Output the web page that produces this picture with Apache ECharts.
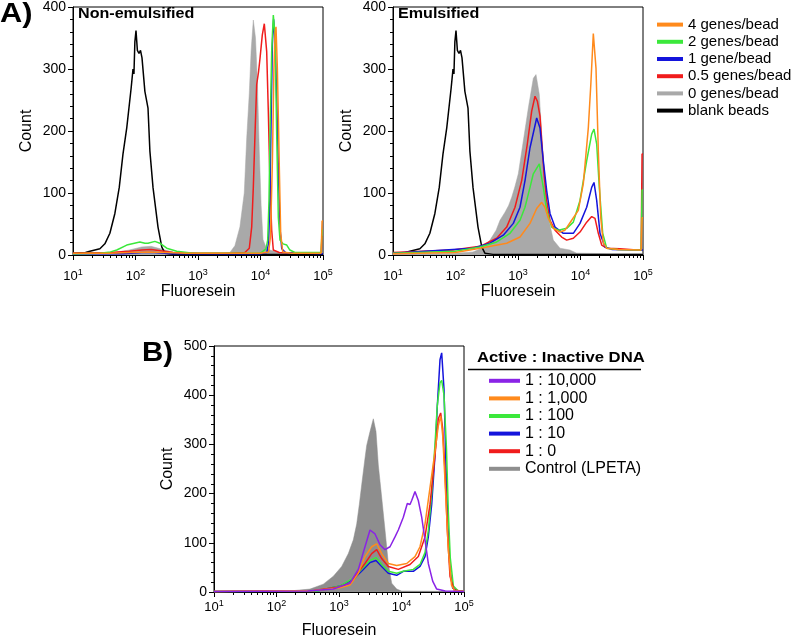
<!DOCTYPE html>
<html>
<head>
<meta charset="utf-8">
<script src="https://cdn.jsdelivr.net/npm/echarts@6/dist/echarts.min.js"></script>
<style>
html,body{margin:0;padding:0;background:#fff;}
#chart{width:800px;height:640px;}
</style>
</head>
<body>
<div id="chart"></div>
<script>
// Each point: [log10(fluorescence), count]
const blankBeads = [[1.0,3],[1.2,4],[1.27,6],[1.35,8],[1.43,10],[1.51,18],[1.59,35],[1.67,67],[1.74,109],[1.80,163],[1.86,205],[1.93,269],[1.96,300],[1.975,292],[1.99,344],[2.008,362],[2.03,330],[2.056,325],[2.08,330],[2.104,318],[2.15,264],[2.2,237],[2.23,168],[2.28,109],[2.36,45],[2.42,13],[2.47,3],[2.6,1],[3.0,1],[4.0,1],[5.0,1]];

// Panel A, non-emulsified
const nonEm0 = [[1.0,2],[1.6,3],[1.9,8],[2.1,13],[2.25,14],[2.4,10],[2.6,5],[3.0,3],[3.4,3],[3.51,4],[3.59,15],[3.67,45],[3.74,100],[3.78,190],[3.82,260],[3.85,330],[3.885,379],[3.92,350],[3.95,280],[3.98,170],[4.01,80],[4.04,25],[4.09,12],[4.15,8],[4.3,4],[4.6,3],[5.0,3]];
const nonEm05 = [[1.0,3],[1.6,4],[1.9,6],[2.1,8],[2.25,9],[2.4,7],[2.6,4],[3.0,3],[3.5,3],[3.75,4],[3.821,11],[3.859,45],[3.885,109],[3.912,195],[3.939,275],[3.968,295],[3.992,317],[4.029,355],[4.061,373],[4.099,328],[4.125,232],[4.152,115],[4.179,40],[4.205,8],[4.3,4],[4.6,3],[4.97,3],[4.985,30],[5.0,30]];
const nonEm1 = [[1.0,2],[1.8,2],[2.1,4],[2.3,4],[2.6,2],[4.0,2],[4.1,4],[4.13,20],[4.15,90],[4.17,220],[4.19,340],[4.21,380],[4.235,345],[4.26,250],[4.29,120],[4.315,40],[4.34,10],[4.4,4],[5.0,2]];
const nonEm2 = [[1.0,2],[1.43,3],[1.6,5],[1.7,8],[1.86,16],[2.07,21],[2.15,19],[2.2,19],[2.31,22],[2.39,19],[2.5,11],[2.66,6],[2.92,3],[3.5,3],[4.0,3],[4.088,10],[4.115,24],[4.136,88],[4.152,195],[4.179,328],[4.205,387],[4.232,355],[4.259,195],[4.285,61],[4.312,24],[4.36,18],[4.42,16],[4.47,8],[4.55,4],[4.97,4],[4.985,40],[5.0,40]];
const nonEm4 = [[1.0,3],[1.6,3],[1.9,4],[2.2,5],[2.5,4],[2.8,3],[4.0,3],[4.13,5],[4.16,30],[4.19,150],[4.215,300],[4.235,360],[4.248,368],[4.27,300],[4.29,200],[4.301,141],[4.323,35],[4.355,5],[4.5,3],[4.97,3],[4.985,55],[5.0,55]];

// Panel A, emulsified
const em0 = [[1.0,2],[2.0,3],[2.28,5],[2.4,10],[2.552,24],[2.65,40],[2.712,56],[2.792,69],[2.85,80],[2.899,93],[2.95,110],[3.005,131],[3.085,184],[3.165,237],[3.245,285],[3.288,291],[3.341,259],[3.379,195],[3.432,115],[3.485,61],[3.565,24],[3.672,11],[3.83,8],[3.94,3],[4.5,2],[5.0,2]];
const em05 = [[1.0,4],[1.96,8],[2.392,14],[2.659,27],[2.819,45],[2.952,77],[3.059,120],[3.149,179],[3.219,232],[3.272,256],[3.31,248],[3.352,224],[3.379,184],[3.416,131],[3.459,88],[3.512,56],[3.592,40],[3.699,29],[3.779,24],[3.885,27],[3.992,37],[4.099,53],[4.179,62],[4.232,59],[4.285,35],[4.339,16],[4.419,11],[4.63,10],[4.9,8],[4.97,8],[4.985,163],[5.0,163]];
const em1 = [[1.0,3],[2.28,11],[2.552,19],[2.765,32],[2.925,51],[3.032,77],[3.112,120],[3.192,173],[3.299,221],[3.352,205],[3.405,152],[3.459,104],[3.512,67],[3.592,45],[3.725,35],[3.885,35],[3.992,51],[4.099,77],[4.179,109],[4.216,117],[4.259,88],[4.312,35],[4.392,13],[4.5,9],[4.9,8],[5.0,8]];
const em2 = [[1.0,3],[2.0,6],[2.392,13],[2.659,21],[2.872,35],[3.032,56],[3.112,77],[3.192,109],[3.245,131],[3.341,147],[3.405,109],[3.459,72],[3.539,45],[3.645,40],[3.779,43],[3.885,53],[3.992,88],[4.099,152],[4.179,195],[4.216,203],[4.259,179],[4.301,109],[4.355,35],[4.419,11],[4.6,9],[4.97,8],[4.985,105],[5.0,105]];
const em4 = [[1.0,2],[2.0,4],[2.392,11],[2.819,19],[3.032,29],[3.192,51],[3.299,75],[3.379,85],[3.432,77],[3.485,59],[3.565,43],[3.672,37],[3.752,40],[3.859,56],[3.965,72],[4.045,115],[4.125,205],[4.165,275],[4.205,357],[4.248,301],[4.285,168],[4.323,61],[4.365,19],[4.419,11],[4.6,9],[4.97,8],[4.985,60],[5.0,60]];

// Panel B
const bControl = [[1.0,1],[2.2,2],[2.536,6],[2.749,16],[2.909,32],[3.043,52],[3.149,78],[3.229,106],[3.283,138],[3.325,178],[3.363,218],[3.416,272],[3.443,298],[3.496,326],[3.549,352],[3.592,326],[3.629,258],[3.683,192],[3.736,126],[3.789,58],[3.843,18],[3.923,6],[4.0,2],[5.0,1]];
const b10000 = [[1.0,1],[2.5,2],[2.909,6],[3.176,18],[3.309,46],[3.416,92],[3.496,126],[3.523,130],[3.576,118],[3.656,96],[3.736,86],[3.816,92],[3.896,112],[3.949,126],[4.029,152],[4.093,180],[4.136,178],[4.163,186],[4.19,190],[4.216,204],[4.269,186],[4.323,152],[4.376,106],[4.429,58],[4.499,22],[4.563,6],[4.7,2],[5.0,1]];
const b1000 = [[1.0,1],[2.6,3],[3.0,8],[3.176,14],[3.309,38],[3.416,72],[3.523,92],[3.603,98],[3.683,78],[3.789,58],[3.923,54],[4.083,58],[4.216,72],[4.296,92],[4.376,138],[4.456,212],[4.536,286],[4.589,338],[4.627,358],[4.659,318],[4.696,226],[4.749,86],[4.8,14],[4.85,3],[5.0,1]];
const b100 = [[1.0,1],[2.643,2],[3.016,12],[3.229,28],[3.389,50],[3.496,64],[3.592,70],[3.683,56],[3.789,42],[3.923,38],[4.029,42],[4.189,46],[4.296,56],[4.376,80],[4.429,125],[4.483,200],[4.536,300],[4.573,380],[4.616,425],[4.643,430],[4.68,400],[4.72,290],[4.75,160],[4.78,70],[4.83,12],[4.9,3],[5.0,1]];
const b10 = [[1.0,1],[2.643,2],[3.016,12],[3.229,26],[3.389,46],[3.496,60],[3.592,64],[3.683,52],[3.789,38],[3.923,34],[4.029,42],[4.189,42],[4.296,52],[4.376,72],[4.429,112],[4.483,178],[4.536,278],[4.573,378],[4.616,472],[4.643,486],[4.68,412],[4.707,278],[4.739,146],[4.776,46],[4.819,8],[4.9,2],[5.0,1]];
const b0 = [[1.0,1],[2.6,3],[3.0,10],[3.176,18],[3.283,36],[3.416,58],[3.523,78],[3.603,86],[3.683,68],[3.789,52],[3.949,46],[4.136,56],[4.269,72],[4.376,112],[4.456,178],[4.536,278],[4.589,352],[4.627,364],[4.659,332],[4.696,246],[4.733,126],[4.776,32],[4.84,4],[5.0,1]];

const namesA = ['4 genes/bead','2 genes/bead','1 gene/bead','0.5 genes/bead','0 genes/bead','blank beads'];
const namesB = ['1 : 10,000','1 : 1,000','1 : 100','1 : 10','1 : 0','Control (LPETA)'];
const yTicksA = [0,100,200,300,400];
const yTicksB = [0,100,200,300,400,500];
const xDecades = [10,100,1000,10000,100000];
const minorMultipliers = [2,3,4,5,6,7,8,9];

const C = {orange:'#ff8a1c', green:'#3be83b', blue:'#1414dc', red:'#f01c1c', grayA:'#a9a9a9', grayB:'#8e8e8e', black:'#000000', purple:'#8a23e6'};
const FONT = 'Liberation Sans, Arial, sans-serif';

const toXY = arr => arr.map(p => [Math.pow(10, p[0]), p[1]]);
const minorVals = [];
xDecades.slice(0, -1).forEach(d => minorMultipliers.forEach(m => minorVals.push(d * m)));

const grids = [
  {left:73, top:5, width:250, height:250},
  {left:393, top:5, width:250, height:250},
  {left:214, top:346, width:250, height:250}
].map(g => Object.assign({show:true, borderColor:'#000', borderWidth:1, backgroundColor:'transparent'}, g));

const xAxes = [], yAxes = [];
[0,1,2].forEach(i => {
  const isB = i === 2;
  xAxes.push({
    type:'log', logBase:10, gridIndex:i, min:xDecades[0], max:xDecades[xDecades.length-1],
    name:'Fluoresein', nameLocation:'middle', nameGap: isB ? 31 : 29,
    nameTextStyle:{fontSize:16, color:'#000', fontFamily:FONT},
    axisLine:{lineStyle:{color:'#000', width:1}},
    axisTick:{length:5, lineStyle:{color:'#000'}, customValues: xDecades},
    axisLabel:{color:'#000', margin: isB ? 7 : 13, customValues: xDecades,
      formatter: v => '{b|10}{s|' + Math.round(Math.log10(v)) + '}',
      rich:{b:{fontSize:13, fontFamily:FONT, color:'#000'}, s:{fontSize:9, fontFamily:FONT, color:'#000', padding:[0,0,8,0]}}},
    splitLine:{show:false}
  });
  xAxes.push({
    type:'log', logBase:10, gridIndex:i, min:xDecades[0], max:xDecades[xDecades.length-1],
    position:'bottom', axisLine:{show:false}, axisLabel:{show:false}, splitLine:{show:false},
    axisTick:{length:3, lineStyle:{color:'#000'}, customValues: minorVals}
  });
  const ticks = isB ? yTicksB : yTicksA;
  yAxes.push({
    type:'value', gridIndex:i, min:ticks[0], max:ticks[ticks.length-1], interval:100,
    name:'Count', nameLocation:'middle', nameGap:38,
    nameTextStyle:{fontSize:16, color:'#000', fontFamily:FONT},
    axisLine:{show:true, lineStyle:{color:'#000', width:1}},
    axisTick:{show:true, length:5, lineStyle:{color:'#000'}},
    minorTick:{show:true, splitNumber:5, length:3, lineStyle:{color:'#000'}},
    axisLabel:{fontSize:14, color:'#000', fontFamily:FONT, margin:7},
    splitLine:{show:false}
  });
});

function line(name, data, color, grid, z, width) {
  return {type:'line', name, data:toXY(data), xAxisIndex:grid*2, yAxisIndex:grid,
    showSymbol:false, symbol:'none', silent:true, z:z,
    lineStyle:{color, width:width||1.5}, itemStyle:{color}};
}
function area(name, data, color, grid) {
  return {type:'line', name, data:toXY(data), xAxisIndex:grid*2, yAxisIndex:grid,
    showSymbol:false, symbol:'none', silent:true, z:1,
    lineStyle:{color, width:0.5}, itemStyle:{color}, areaStyle:{color, opacity:1}};
}

const series = [
  area(namesA[4], nonEm0, C.grayA, 0),
  line(namesA[5], blankBeads, C.black, 0, 2),
  line(namesA[3], nonEm05, C.red, 0, 3),
  line(namesA[2], nonEm1, C.blue, 0, 4),
  line(namesA[1], nonEm2, C.green, 0, 5),
  line(namesA[0], nonEm4, C.orange, 0, 6),

  area(namesA[4], em0, C.grayA, 1),
  line(namesA[5], blankBeads, C.black, 1, 2),
  line(namesA[3], em05, C.red, 1, 3),
  line(namesA[2], em1, C.blue, 1, 4),
  line(namesA[1], em2, C.green, 1, 5),
  line(namesA[0], em4, C.orange, 1, 6),

  area(namesB[5], bControl, C.grayB, 2),
  line(namesB[3], b10, C.blue, 2, 3),
  line(namesB[2], b100, C.green, 2, 4),
  line(namesB[4], b0, C.red, 2, 5),
  line(namesB[1], b1000, C.orange, 2, 6),
  line(namesB[0], b10000, C.purple, 2, 7)
];

const legendCommon = {orient:'vertical', icon:'rect', selectedMode:false, itemGap:0, padding:0};

const option = {
  animation:false,
  backgroundColor:'#fff',
  grid: grids,
  xAxis: xAxes,
  yAxis: yAxes,
  series,
  legend:[
    Object.assign({}, legendCommon, {data:namesA, left:657, top:16, itemWidth:26, itemHeight:4,
      textStyle:{fontSize:15, color:'#000', fontFamily:FONT, lineHeight:17.2}}),
    Object.assign({}, legendCommon, {data:namesB, left:489, top:372, itemWidth:31, itemHeight:4,
      textStyle:{fontSize:16, color:'#000', fontFamily:FONT, lineHeight:17.6}})
  ],
  graphic:[
    {type:'text', left:0, top:0, scaleX:1.1, style:{text:'A)', font:'bold 28px ' + FONT, fill:'#000'}},
    {type:'text', left:142, top:339, scaleX:1.05, style:{text:'B)', font:'bold 28px ' + FONT, fill:'#000'}},
    {type:'text', left:78, top:7, scaleX:1.15, style:{text:'Non-emulsified', font:'bold 14px ' + FONT, fill:'#000'}},
    {type:'text', left:398, top:7, scaleX:1.15, style:{text:'Emulsified', font:'bold 14px ' + FONT, fill:'#000'}},
    {type:'text', left:477, top:350, scaleX:1.15, style:{text:'Active : Inactive DNA', font:'bold 14.5px ' + FONT, fill:'#000'}},
    {type:'line', shape:{x1:468, y1:369.5, x2:641, y2:369.5}, style:{stroke:'#000', lineWidth:1.5}}
  ]
};

const chart = echarts.init(document.getElementById('chart'), null, {renderer:'canvas'});
chart.setOption(option);
</script>
</body>
</html>
